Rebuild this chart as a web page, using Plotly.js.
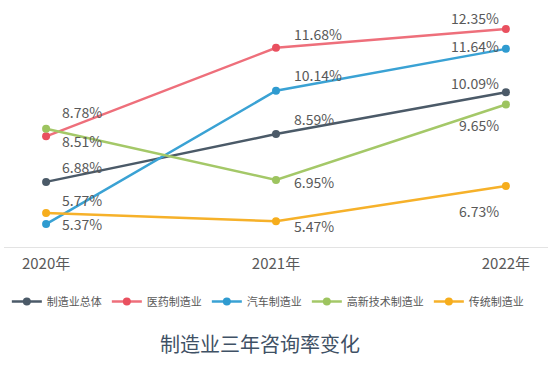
<!DOCTYPE html>
<html>
<head>
<meta charset="utf-8">
<script src="https://cdn.plot.ly/plotly-3.0.1.min.js"></script>
<style>html,body{margin:0;padding:0;background:#fff;}#chart{width:554px;height:369px;}</style>
</head>
<body>
<div id="chart"></div>
<script>
const years = ["2020年", "2021年", "2022年"];
const seriesNames = ["制造业总体", "医药制造业", "汽车制造业", "高新技术制造业", "传统制造业"];
const overall = [6.88, 8.59, 10.09];
const pharma = [8.51, 11.68, 12.35];
const auto = [5.37, 10.14, 11.64];
const hightech = [8.78, 6.95, 9.65];
const traditional = [5.77, 5.47, 6.73];
const chartTitle = "制造业三年咨询率变化";

const seriesValues = [overall, pharma, auto, hightech, traditional];
const colors = ["#4b5a68", "#e9505f", "#2f9bd0", "#9dc45f", "#f6ad1c"];
const lineColors = ["#4b5a68", "#ee6f7b", "#3aa2d4", "#a4c868", "#f6b12a"];
// label vertical offsets (px, + = up) per series, per year
const labelShift = [
  [15, 15, 9],
  [-5, 14, 11],
  [0, 16, 3],
  [17, -2, -21],
  [13, -5, -25]
];

const font = "'Noto Sans CJK SC', 'Noto Sans', sans-serif";

const traces = seriesValues.map((vals, i) => ({
  type: "scatter",
  mode: "lines+markers",
  name: seriesNames[i],
  x: years,
  y: vals,
  line: {color: lineColors[i], width: 2.5},
  marker: {color: colors[i], size: 8},
  hoverinfo: "skip"
}));

const annotations = [];
seriesValues.forEach((vals, i) => {
  vals.forEach((v, j) => {
    const right = j === 2;
    annotations.push({
      x: j, y: v, xref: "x", yref: "y",
      text: v.toFixed(2) + "%",
      showarrow: false,
      xanchor: right ? "right" : "left",
      yanchor: "middle",
      xshift: right ? -5 : (j === 0 ? 14 : 16),
      yshift: labelShift[i][j],
      font: {family: font, size: 14, color: "#595959"}
    });
  });
});
annotations.push({
  text: chartTitle, xref: "paper", yref: "paper",
  x: 0.471, y: -0.4, xanchor: "center", yanchor: "middle",
  showarrow: false,
  font: {family: font, size: 20, color: "#3f5165"}
});

const layout = {
  width: 554, height: 369,
  margin: {l: 4, r: 6, t: 5, b: 122},
  paper_bgcolor: "#ffffff", plot_bgcolor: "#ffffff",
  showlegend: true,
  legend: {
    orientation: "h", x: 0.485, xanchor: "center", y: -0.165, yanchor: "top",
    font: {family: font, size: 11, color: "#595959"},
    itemwidth: 30
  },
  xaxis: {
    type: "category",
    range: [-0.183, 2.183],
    showgrid: false, zeroline: false,
    showline: true, linecolor: "#e3e3e3", linewidth: 1,
    ticks: "", ticklabelstandoff: 3,
    tickfont: {family: font, size: 15, color: "#595959"}
  },
  yaxis: {
    range: [4.55, 13.21],
    showgrid: false, zeroline: false, showline: false,
    showticklabels: false, ticks: ""
  },
  annotations: annotations
};

Plotly.newPlot("chart", traces, layout, {displayModeBar: false, staticPlot: true});
</script>
</body>
</html>
